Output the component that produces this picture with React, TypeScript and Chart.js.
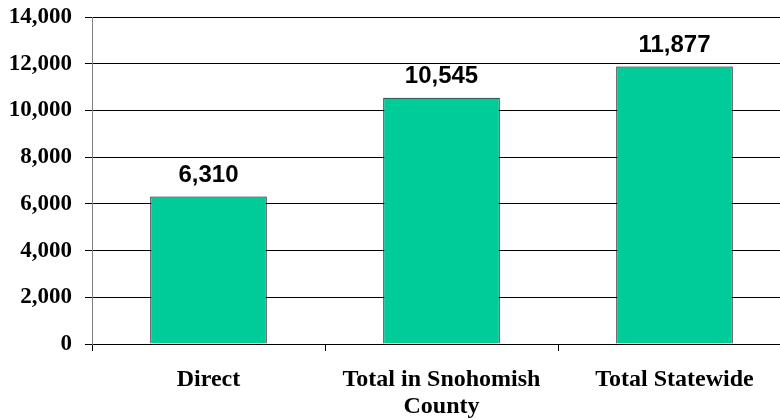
import React, { useEffect, useRef } from "react";
import { Chart, registerables } from "chart.js";

Chart.register(...registerables);

const categories: (string | string[])[] = ["Direct", ["Total in Snohomish", "County"], "Total Statewide"];
const values: number[] = [6310, 10545, 11877];
const yTicks: number[] = [0, 2000, 4000, 6000, 8000, 10000, 12000, 14000];

const fmt = (v: number) => v.toLocaleString("en-US");

const valueLabels = {
  id: "valueLabels",
  afterDatasetsDraw(chart: any) {
    const ctx = chart.ctx;
    const meta = chart.getDatasetMeta(0);
    ctx.save();
    ctx.font = "bold 24px 'Liberation Sans', Arial, sans-serif";
    ctx.fillStyle = "#000";
    ctx.textAlign = "center";
    ctx.textBaseline = "alphabetic";
    meta.data.forEach((bar: any, i: number) => {
      ctx.fillText(fmt(values[i]), bar.x, bar.y - 15);
    });
    ctx.restore();
  },
};

export default function App() {
  const ref = useRef<HTMLCanvasElement>(null);
  useEffect(() => {
    if (!ref.current) return;
    const chart = new Chart(ref.current, {
      type: "bar",
      data: {
        labels: categories,
        datasets: [
          {
            data: values,
            backgroundColor: "#00CC99",
            borderColor: "#000000",
            borderWidth: 1,
            barPercentage: 0.5,
            categoryPercentage: 1,
          },
        ],
      },
      plugins: [valueLabels],
      options: {
        animation: false,
        responsive: false,
        maintainAspectRatio: false,
        layout: { padding: { top: 17, right: 9, left: 0, bottom: 0 } },
        plugins: { legend: { display: false }, tooltip: { enabled: false } },
        scales: {
          x: {
            offset: true,
            grid: {
              offset: true,
              drawOnChartArea: false,
              drawTicks: true,
              tickLength: 7,
              color: "#000",
            },
            border: { color: "#000", width: 1 },
            ticks: {
              color: "#000",
              padding: 16,
              maxRotation: 0,
              font: { family: "'Liberation Serif', 'Times New Roman', serif", size: 24, weight: "bold", lineHeight: 1.1 },
            },
            afterFit: (scale: any) => {
              scale.height = 76;
              scale.paddingLeft = 0;
              scale.paddingRight = 0;
            },
          },
          y: {
            min: 0,
            max: 14000,
            afterBuildTicks: (scale: any) => {
              scale.ticks = yTicks.map((v) => ({ value: v }));
            },
            grid: { color: "#000", tickLength: 7, drawTicks: true },
            border: { color: "#808080", width: 1 },
            ticks: {
              color: "#000",
              padding: 13,
              callback: (v: any) => fmt(Number(v)),
              font: { family: "'Liberation Serif', 'Times New Roman', serif", size: 23, weight: "bold" },
            },
            afterFit: (scale: any) => {
              scale.width = 92;
              scale.paddingTop = 0;
              scale.paddingBottom = 0;
            },
          },
        },
      },
    });
    return () => chart.destroy();
  }, []);
  return (
    <div style={{ position: "fixed", left: 0, top: 0, width: 780, height: 420, overflow: "hidden", background: "#fff" }}>
      <canvas ref={ref} width={800} height={420} style={{ display: "block", width: 800, height: 420 }} />
    </div>
  );
}
